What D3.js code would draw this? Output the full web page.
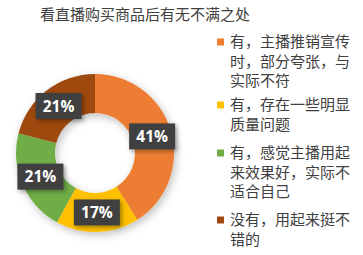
<!DOCTYPE html>
<html>
<head>
<meta charset="utf-8">
<script src="https://cdn.jsdelivr.net/npm/d3@7"></script>
<style>
  body { margin: 0; background: #fff; }
  svg { display: block; }
</style>
</head>
<body>
<script>
let width = 363, height = 255
let title = '看直播购买商品后有无不满之处'
let categories = ['有，主播推销宣传时，部分夸张，与实际不符', '有，存在一些明显质量问题', '有，感觉主播用起来效果好，实际不适合自己', '没有，用起来挺不错的']
let values = [41, 17, 21, 21]
let colors = ['#ED7D31', '#FFC000', '#70AD47', '#9E480E']
let cjk = '"Noto Sans CJK SC", "Noto Sans", sans-serif'

let svg = d3.select('body').append('svg')
    .attr('width', width).attr('height', height)

let defs = svg.append('defs')
let shadow = defs.append('filter').attr('id', 'shadow')
    .attr('x', '-20%').attr('y', '-20%').attr('width', '150%').attr('height', '150%')
shadow.append('feDropShadow')
    .attr('dx', 2).attr('dy', 3).attr('stdDeviation', 4)
    .attr('flood-color', '#000').attr('flood-opacity', 0.25)
let boxShadow = defs.append('filter').attr('id', 'boxShadow')
    .attr('x', '-30%').attr('y', '-30%').attr('width', '170%').attr('height', '170%')
boxShadow.append('feDropShadow')
    .attr('dx', 2).attr('dy', 2).attr('stdDeviation', 2)
    .attr('flood-color', '#000').attr('flood-opacity', 0.35)

svg.append('text')
    .attr('x', 40).attr('y', 20)
    .attr('font-family', cjk).attr('font-size', 15)
    .attr('fill', '#404040')
    .text(title)

let cx = 95, cy = 153, outer = 79, inner = 40
let pie = d3.pie().sort(null).value(d => d)
let arc = d3.arc().innerRadius(inner).outerRadius(outer)
let arcs = pie(values)

let g = svg.append('g').attr('transform', `translate(${cx}, ${cy})`)
g.append('g').attr('filter', 'url(#shadow)')
    .selectAll('path').data(arcs).join('path')
    .attr('d', arc)
    .attr('fill', (d, i) => colors[i])

let labels = g.selectAll('g.label').data(arcs).join('g')
    .attr('class', 'label')
    .attr('transform', d => `translate(${arc.centroid(d)})`)
labels.append('rect')
    .attr('x', -23).attr('y', -13).attr('width', 46).attr('height', 26)
    .attr('fill', '#404040')
    .attr('filter', 'url(#boxShadow)')
labels.append('text')
    .attr('text-anchor', 'middle').attr('dy', '0.36em')
    .attr('font-family', '"Open Sans", sans-serif')
    .attr('font-weight', 'bold').attr('font-size', 15.5)
    .attr('fill', '#fff')
    .text(d => d.value + '%')

// legend, wrapped at 8 characters per line
let legend = svg.append('g')
let lineH = 19.5
let y0 = 42
let gaps = [0, 4.5, 9, 8.5]
let y = y0
categories.forEach((name, i) => {
    let item = legend.append('g')
    let text = item.append('text')
        .attr('font-family', cjk).attr('font-size', 15)
        .attr('fill', '#404040')
    let chars = Array.from(name), line = '', lines = []
    chars.forEach(c => {
        if ((line + c).length > 8) { lines.push(line); line = c }
        else line += c
    })
    lines.push(line)
    y += gaps[i]
    item.append('rect')
        .attr('x', 217).attr('y', y - 3.5).attr('width', 7).attr('height', 7)
        .attr('fill', colors[i])
    lines.forEach((l, j) => {
        text.append('tspan')
            .attr('x', 230).attr('y', y + j * lineH)
            .attr('dy', '0.36em')
            .text(l)
    })
    y += lines.length * lineH
})
</script>
</body>
</html>
